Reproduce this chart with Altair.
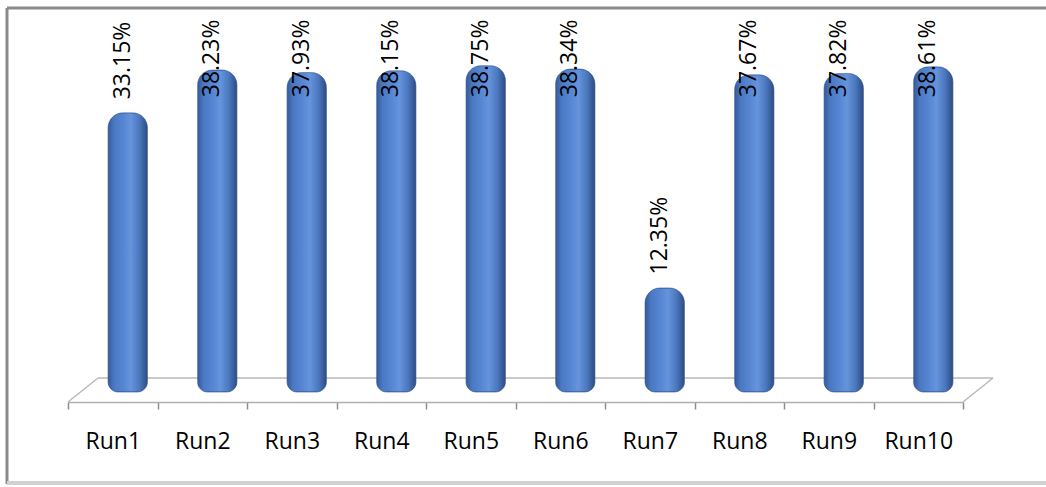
import altair as alt
import pandas as pd

runs = ["Run1", "Run2", "Run3", "Run4", "Run5", "Run6", "Run7", "Run8", "Run9", "Run10"]
values = [33.15, 38.23, 37.93, 38.15, 38.75, 38.34, 12.35, 37.67, 37.82, 38.61]

df = pd.DataFrame({"run": runs, "value": values})

W, H = 895, 379
PAD_L, PAD_T = 68, 13
DEPTH_X, DEPTH_Y = 30, 24   # 3D floor depth (pixels)
FLOOR_DROP = 10             # floor front edge below bar base

FONT = "Open Sans"

x_enc = alt.X("run:N", sort=runs, scale=alt.Scale(paddingInner=0, paddingOuter=0),
              axis=alt.Axis(title=None, labelAngle=0, labelFont=FONT, labelFontSize=23,
                            labelColor="#000000", labelPadding=21, tickBand="extent",
                            tickSize=7, tickColor="#8c8c8c", tickWidth=1.5,
                            domainColor="#b0b0b0", domainWidth=1.5, offset=FLOOR_DROP,
                            grid=False))
y_scale = alt.Scale(domain=[0, 45], nice=False, zero=True)

grad = alt.Gradient(
    gradient="linear", x1=0, x2=1, y1=0, y2=0,
    stops=[
        alt.GradientStop(color="#34599a", offset=0.0),
        alt.GradientStop(color="#4a78c2", offset=0.15),
        alt.GradientStop(color="#5787d4", offset=0.40),
        alt.GradientStop(color="#6694dc", offset=0.58),
        alt.GradientStop(color="#4a77bd", offset=0.80),
        alt.GradientStop(color="#2c4c82", offset=1.0),
    ],
)

base = alt.Chart(df)

bars = base.mark_bar(
    color=grad, width=alt.RelativeBandSize(0.44), xOffset=15,
    cornerRadiusTopLeft=15, cornerRadiusTopRight=15,
    cornerRadiusBottomLeft=10, cornerRadiusBottomRight=10,
    stroke="#2f5189", strokeWidth=0.6,
).encode(
    x=x_enc,
    y=alt.Y("value:Q", scale=y_scale, axis=None),
)

labels = base.transform_calculate(
    label="format(datum.value, '.2f') + '%'",
    ly="min(datum.value + 1.6, 35.0)",
).mark_text(
    angle=270, align="left", baseline="middle", font=FONT, fontSize=23,
    color="#000000", xOffset=10,
).encode(
    x=alt.X("run:N", sort=runs),
    y=alt.Y("ly:Q", scale=y_scale),
    text="label:N",
)

floor_color = "#b8b8b8"
deco = pd.DataFrame({"k": [0]})
back_edge = alt.Chart(deco).mark_rule(color=floor_color, strokeWidth=1.5).encode(
    x=alt.value(DEPTH_X), x2=alt.value(W + DEPTH_X),
    y=alt.value(H + FLOOR_DROP - DEPTH_Y), y2=alt.value(H + FLOOR_DROP - DEPTH_Y))
left_edge = alt.Chart(deco).mark_rule(color=floor_color, strokeWidth=1.5).encode(
    x=alt.value(0), x2=alt.value(DEPTH_X),
    y=alt.value(H + FLOOR_DROP), y2=alt.value(H + FLOOR_DROP - DEPTH_Y))
right_edge = alt.Chart(deco).mark_rule(color=floor_color, strokeWidth=1.5).encode(
    x=alt.value(W), x2=alt.value(W + DEPTH_X),
    y=alt.value(H + FLOOR_DROP), y2=alt.value(H + FLOOR_DROP - DEPTH_Y))

# chart frame: dark top/left edges, light shadowed bottom edge
frame_top = alt.Chart(deco).mark_rule(color="#8a8a8a", strokeWidth=3).encode(
    x=alt.value(7 - PAD_L), x2=alt.value(1050 - PAD_L),
    y=alt.value(8 - PAD_T), y2=alt.value(8 - PAD_T))
frame_left = alt.Chart(deco).mark_rule(color="#8a8a8a", strokeWidth=3).encode(
    x=alt.value(7 - PAD_L), x2=alt.value(7 - PAD_L),
    y=alt.value(8 - PAD_T), y2=alt.value(484 - PAD_T))
frame_bottom = alt.Chart(deco).mark_rule(color="#d2d2d2", strokeWidth=4).encode(
    x=alt.value(7 - PAD_L), x2=alt.value(1050 - PAD_L),
    y=alt.value(483 - PAD_T), y2=alt.value(483 - PAD_T))

chart = alt.layer(frame_top, frame_left, frame_bottom, back_edge, left_edge, right_edge,
                  bars, labels).properties(
    width=W, height=H,
    autosize=alt.AutoSizeParams(type="none"),
    padding={"left": PAD_L, "top": PAD_T, "right": 1046 - PAD_L - W, "bottom": 487 - PAD_T - H},
    background="#ffffff",
).configure_view(stroke=None)

chart.save("out.html", embed_options={"renderer": "svg", "actions": False})
